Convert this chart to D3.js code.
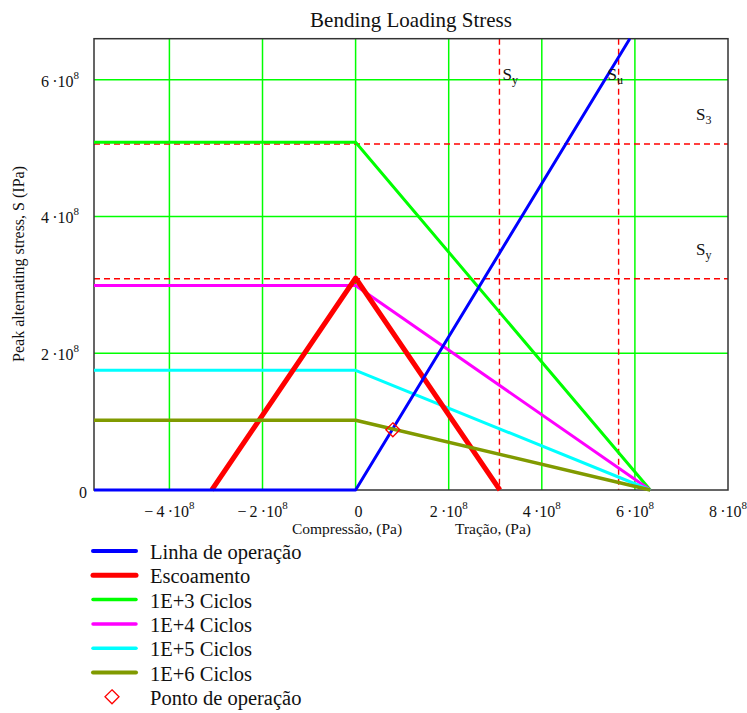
<!DOCTYPE html>
<html><head><meta charset="utf-8">
<script src="https://cdn.jsdelivr.net/npm/d3@7/dist/d3.min.js"></script>
<style>
body{margin:0;background:#fff;}
text{font-family:"Liberation Serif","Times New Roman",serif;fill:#111;}
</style></head>
<body><svg id="chart" width="747" height="713"></svg>
<script>
// ---- data ----
const xTicks = [-4e8, -2e8, 0, 2e8, 4e8, 6e8, 8e8];
const yTicks = [0, 2e8, 4e8, 6e8];
const xDomain = [-5.62e8, 8.0e8];
const yDomain = [0, 6.6e8];
const Sy = 3.09e8, Su = 5.65e8, S3 = 5.06e8;
const seriesNames = ["Linha de operação", "Escoamento", "1E+3 Ciclos", "1E+4 Ciclos", "1E+5 Ciclos", "1E+6 Ciclos"];
const seriesColors = ["#0000ff", "#ff0000", "#00ff00", "#ff00ff", "#00ffff", "#809a00"];
const operX = [-5.62e8, 0, 5.89e8];
const operY = [0, 0, 6.6e8];
const yieldX = [-3.09e8, 0, 3.1e8];
const yieldY = [0, 3.1e8, 0];
const c3X = [-5.62e8, 0, 6.33e8];
const c3Y = [5.085e8, 5.085e8, 0];
const c4X = [-5.62e8, 0, 6.33e8];
const c4Y = [2.99e8, 2.99e8, 0];
const c5X = [-5.62e8, 0, 6.33e8];
const c5Y = [1.75e8, 1.75e8, 0];
const c6X = [-5.62e8, 0, 6.33e8];
const c6Y = [1.02e8, 1.02e8, 0];
const pointX = [0.80e8];
const pointY = [0.88e8];
const pointName = "Ponto de operação";

// ---- layout ----
const svg = d3.select("#chart");
const L = 94, R = 728, T = 38.7, B = 490;
const x = d3.scaleLinear().domain(xDomain).range([L, R]);
const y = d3.scaleLinear().domain(yDomain).range([B, T]);

// title
svg.append("text").attr("x", 411).attr("y", 27).attr("text-anchor", "middle")
  .style("font-size", "21px").text("Bending Loading Stress");

// grid
const g = svg.append("g");
g.selectAll(".gx").data(xTicks.filter(d => d > xDomain[0] && d < xDomain[1])).enter().append("line")
  .attr("x1", d => x(d)).attr("x2", d => x(d)).attr("y1", T).attr("y2", B)
  .attr("stroke", "#00ff00").attr("stroke-width", 1.5);
g.selectAll(".gy").data(yTicks.filter(d => d > yDomain[0] && d < yDomain[1])).enter().append("line")
  .attr("x1", L).attr("x2", R).attr("y1", d => y(d)).attr("y2", d => y(d))
  .attr("stroke", "#00ff00").attr("stroke-width", 1.5);

// reference dashed lines
const dash = "6,4";
[S3, Sy].forEach(v => g.append("line").attr("x1", L).attr("x2", R).attr("y1", y(v)).attr("y2", y(v))
  .attr("stroke", "#ff0000").attr("stroke-width", 1.4).attr("stroke-dasharray", dash));
[Sy, Su].forEach(v => g.append("line").attr("x1", x(v)).attr("x2", x(v)).attr("y1", T).attr("y2", B)
  .attr("stroke", "#ff0000").attr("stroke-width", 1.4).attr("stroke-dasharray", dash));

// frame
svg.append("rect").attr("x", L).attr("y", T).attr("width", R - L).attr("height", B - T)
  .attr("fill", "none").attr("stroke", "#333").attr("stroke-width", 1.5);

// series
const seriesX = [operX, yieldX, c3X, c4X, c5X, c6X];
const seriesY = [operY, yieldY, c3Y, c4Y, c5Y, c6Y];
const widths = [3, 5, 3, 3, 3, 3.5];
const line = d3.line().x(d => x(d[0])).y(d => y(d[1]));
const order = [2, 3, 4, 1, 0, 5];
order.forEach(i => {
  const pts = seriesX[i].map((v, k) => [v, seriesY[i][k]]);
  svg.append("path").attr("d", line(pts)).attr("fill", "none")
    .attr("stroke", seriesColors[i]).attr("stroke-width", widths[i]).attr("stroke-linejoin", "round");
});

// operating point
const diamond = d3.symbol().type(d3.symbolDiamond2).size(125);
pointX.forEach((v, k) => svg.append("path").attr("d", diamond())
  .attr("transform", `translate(${x(v)},${y(pointY[k])})`)
  .attr("fill", "none").attr("stroke", "#ff0000").attr("stroke-width", 1.3));

// tick labels with superscript
function sciLabel(sel, v) {
  if (v === 0) { sel.text("0"); return; }
  const e = Math.floor(Math.log10(Math.abs(v)));
  const m = Math.round(v / Math.pow(10, e));
  sel.append("tspan").text((m < 0 ? "\u2212\u2009" : "") + Math.abs(m) + "\u2009\u00b710");
  sel.append("tspan").attr("dy", -8).style("font-size", "11px").text(e);
}
const xa = svg.append("g");
xTicks.forEach(v => {
  const t = xa.append("text").attr("x", x(v) + (v === 0 ? 3 : 0)).attr("y", 517).attr("text-anchor", "middle").style("font-size", "16px");
  sciLabel(t, v);
});
const ya = svg.append("g");
yTicks.forEach(v => {
  const t = ya.append("text").attr("x", v === 0 ? 87 : 79).attr("y", y(v) + (v === 0 ? 8 : 7)).attr("text-anchor", "end").style("font-size", "16px");
  sciLabel(t, v);
});

// axis titles
svg.append("text").attr("x", 347).attr("y", 534).attr("text-anchor", "middle").style("font-size", "15.5px").text("Compressão, (Pa)");
svg.append("text").attr("x", 493).attr("y", 534).attr("text-anchor", "middle").style("font-size", "15.5px").text("Tração, (Pa)");
svg.append("text").attr("transform", "translate(24,264) rotate(-90)").attr("text-anchor", "middle")
  .style("font-size", "16px").text("Peak alternating stress, S (IPa)");

// annotations
function subLabel(xp, yp, main, sub) {
  const t = svg.append("text").attr("x", xp).attr("y", yp).style("font-size", "17px");
  t.append("tspan").text(main);
  t.append("tspan").attr("dy", 4).style("font-size", "12px").text(sub);
}
subLabel(x(Sy) + 3, 80, "S", "y");
subLabel(x(Su) - 11, 80, "S", "u");
subLabel(696, 120, "S", "3");
subLabel(696, 255, "S", "y");

// legend
const leg = svg.append("g");
const legY0 = 551, legDy = 24.3;
seriesNames.forEach((n, i) => {
  const yy = legY0 + i * legDy;
  leg.append("line").attr("x1", 93).attr("x2", 136).attr("y1", yy).attr("y2", yy)
    .attr("stroke", seriesColors[i]).attr("stroke-width", i === 1 ? 5 : (i === 0 || i === 5 ? 4 : 3.5)).attr("stroke-linecap", "round");
  leg.append("text").attr("x", 150).attr("y", yy + 8).style("font-size", "20.5px").text(n);
});
const pyy = legY0 + 6 * legDy;
leg.append("path").attr("d", diamond()).attr("transform", `translate(112,${pyy})`)
  .attr("fill", "none").attr("stroke", "#ff0000").attr("stroke-width", 1.3);
leg.append("text").attr("x", 150).attr("y", pyy + 8).style("font-size", "20.5px").text(pointName);
</script></body></html>
